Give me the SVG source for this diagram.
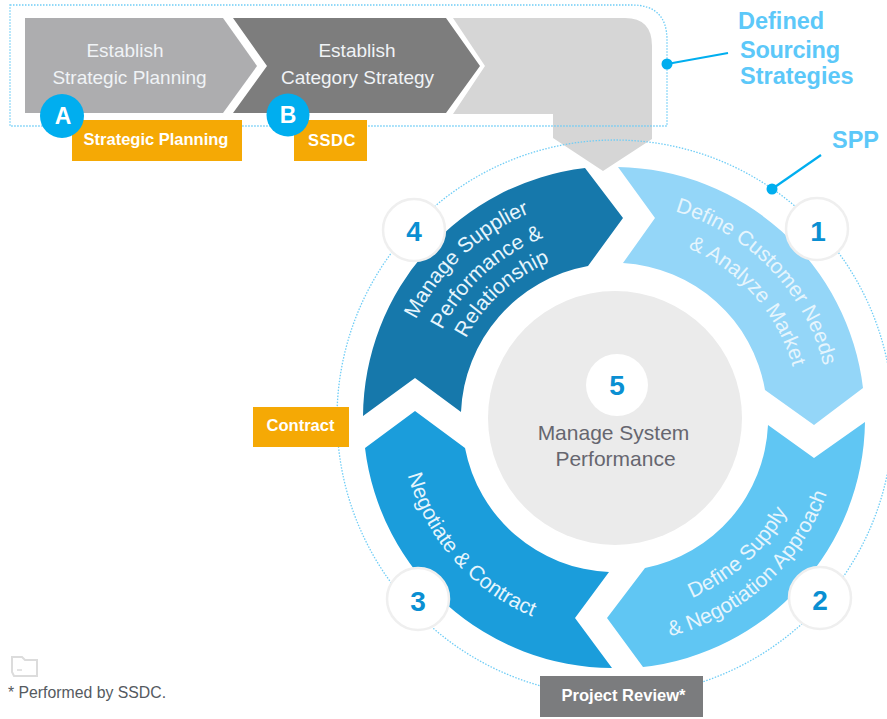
<svg xmlns="http://www.w3.org/2000/svg" xmlns:xlink="http://www.w3.org/1999/xlink" width="887" height="719" viewBox="0 0 887 719">
<style>
text{font-family:"Liberation Sans",Arial,sans-serif}
.w{fill:#f0f3f6;font-size:19px;text-anchor:middle}
.s{fill:#e6f5fd;font-size:21px;text-anchor:middle}
.o{fill:#fff;font-size:16.5px;font-weight:bold;text-anchor:middle}
.n{fill:#0a8fd2;font-size:28px;font-weight:bold;text-anchor:middle}
.b{fill:#fff;stroke:#efefef;stroke-width:2.5}
.c{fill:#5cc8f9;font-size:23.5px;font-weight:bold}
.d{fill:none;stroke:#6fcdf6;stroke-width:1.3;stroke-dasharray:1.5 1.5}
.l{fill:none;stroke:#00aeef;stroke-width:2.2}
.p{fill:#00aeef}
</style>
<defs>
<path id="t222" d="M393 418A222 222 0 0 1 837 418"/>
<path id="t194" d="M421 418A194 194 0 0 1 809 418"/>
<path id="t169" d="M446 418A169 169 0 0 1 784 418"/>
<path id="t215" d="M400 418A215 215 0 0 1 830 418"/>
<path id="t185" d="M430 418A185 185 0 0 1 800 418"/>
<path id="b215" d="M400 418A215 215 0 0 0 830 418"/>
<path id="b196" d="M419 418A196 196 0 0 0 811 418"/>
<path id="b225" d="M390 418A225 225 0 0 0 840 418"/>
</defs>
<rect width="887" height="719" fill="#fff"/>
<g id="chevron-c">
<path d="M453 18H625Q652 18 652 46V139L603 171L553 138V114H453L485 66Z" fill="#d6d6d6"/>
</g>
<g id="sourcing-frame">
<path class="d" d="M10 5H632Q667 5 667 40V126H10Z"/>
</g>
<g id="spp-ring">
<circle class="d" cx="615" cy="418" r="278"/>
</g>
<g id="chevron-a">
<path d="M25 18H223L257 66L223 113H25Z" fill="#adadaf"/>
<text class="w" x="125" y="57">Establish</text>
<text class="w" x="129.500" y="84">Strategic Planning</text>
</g>
<g id="chevron-b">
<path d="M233 18H446L480 66L446 113H233L267 66Z" fill="#7d7d7d"/>
<text class="w" x="357" y="57">Establish</text>
<text class="w" x="357.500" y="84">Category Strategy</text>
</g>
<g id="tag-strategic-planning">
<rect x="72" y="120" width="170" height="41" fill="#f5a905"/>
<text class="o" x="156" y="145">Strategic Planning</text>
</g>
<g id="tag-ssdc">
<rect x="294" y="120" width="73" height="41" fill="#f5a905"/>
<text class="o" x="332" y="146" letter-spacing="0.5">SSDC</text>
</g>
<g id="badge-a">
<circle class="p" cx="62" cy="116" r="22"/>
<text x="63" y="124" fill="#fff" font-size="23" font-weight="bold" text-anchor="middle">A</text>
</g>
<g id="badge-b">
<circle class="p" cx="288" cy="115" r="21.5"/>
<text x="288" y="123" fill="#fff" font-size="23" font-weight="bold" text-anchor="middle">B</text>
</g>
<g id="step-5">
<circle cx="615" cy="418" r="127" fill="#ebebeb"/>
<circle cx="617" cy="385" r="31" fill="#fff"/>
<text class="n" x="617" y="395">5</text>
<text x="613.500" y="440" fill="#66666f" font-size="21" text-anchor="middle">Manage System</text>
<text x="615.500" y="466" fill="#66666f" font-size="21" text-anchor="middle">Performance</text>
</g>
<g id="step-1">
<path d="M618 167A251 251 0 0 1 863 388L814 425L765 390A153 153 0 0 0 623 263L655 218Z" fill="#94d6f8"/>
<text class="s"><textPath href="#t215" startOffset="75.6%">Define Customer Needs</textPath></text>
<text class="s"><textPath href="#t185" startOffset="77%">&amp; Analyze Market</textPath></text>
<circle class="b" cx="817" cy="229" r="31"/>
<text class="n" x="818" y="241">1</text>
</g>
<g id="step-2">
<path d="M865 422A250 250 0 0 1 643 667L607 618L645 568A153 153 0 0 0 768 425L814 458Z" fill="#60c6f3"/>
<text class="s"><textPath href="#b196" startOffset="73.5%">Define Supply</textPath></text>
<text class="s"><textPath href="#b225" startOffset="73.5%">&amp; Negotiation Approach</textPath></text>
<circle class="b" cx="820" cy="598" r="31"/>
<text class="n" x="820" y="610">2</text>
</g>
<g id="step-3">
<path d="M612 668A250 250 0 0 1 365 448L415 411L465 448A153 153 0 0 0 609 572L575 618Z" fill="#1b9ddb"/>
<text class="s"><textPath href="#b215" startOffset="23%">Negotiate &amp; Contract</textPath></text>
<circle class="b" cx="418" cy="599" r="31"/>
<text class="n" x="418" y="611">3</text>
</g>
<g id="step-4">
<path d="M363 416A252 252 0 0 1 585 168L623 218L588 266A155 155 0 0 0 461 412L415 378Z" fill="#1678ab"/>
<text class="s"><textPath href="#t222" startOffset="26%">Manage Supplier</textPath></text>
<text class="s"><textPath href="#t194" startOffset="26.500%">Performance &amp;</textPath></text>
<text class="s"><textPath href="#t169" startOffset="26.500%">Relationship</textPath></text>
<circle class="b" cx="414" cy="230" r="31"/>
<text class="n" x="414" y="241">4</text>
</g>
<g id="tag-contract">
<rect x="253" y="407" width="96" height="40" fill="#f5a905"/>
<text class="o" x="300.500" y="431">Contract</text>
</g>
<g id="tag-project-review">
<rect x="540" y="676" width="163" height="41" fill="#7b7c7e"/>
<text class="o" x="623.500" y="701">Project Review*</text>
</g>
<g id="connectors">
<line class="l" x1="667" y1="64" x2="728" y2="53"/>
<circle class="p" cx="667" cy="64" r="5.5"/>
<line class="l" x1="772" y1="189" x2="821" y2="155"/>
<circle class="p" cx="772" cy="189" r="5.5"/>
</g>
<g id="label-sourcing">
<text class="c" x="738" y="29">Defined</text>
<text class="c" x="740" y="58" textLength="100">Sourcing</text>
<text class="c" x="740" y="84">Strategies</text>
</g>
<g id="label-spp">
<text class="c" x="832" y="148">SPP</text>
</g>
<g id="footnote">
<path d="M12 672V657H22L25 660H37V676H14Z" fill="none" stroke="#dcdcdc" stroke-width="2"/>
<path d="M17 670H22" stroke="#c8c8c8" stroke-width="1"/>
<text x="8" y="698" fill="#555a60" font-size="15.800">* Performed by SSDC.</text>
</g>
</svg>
